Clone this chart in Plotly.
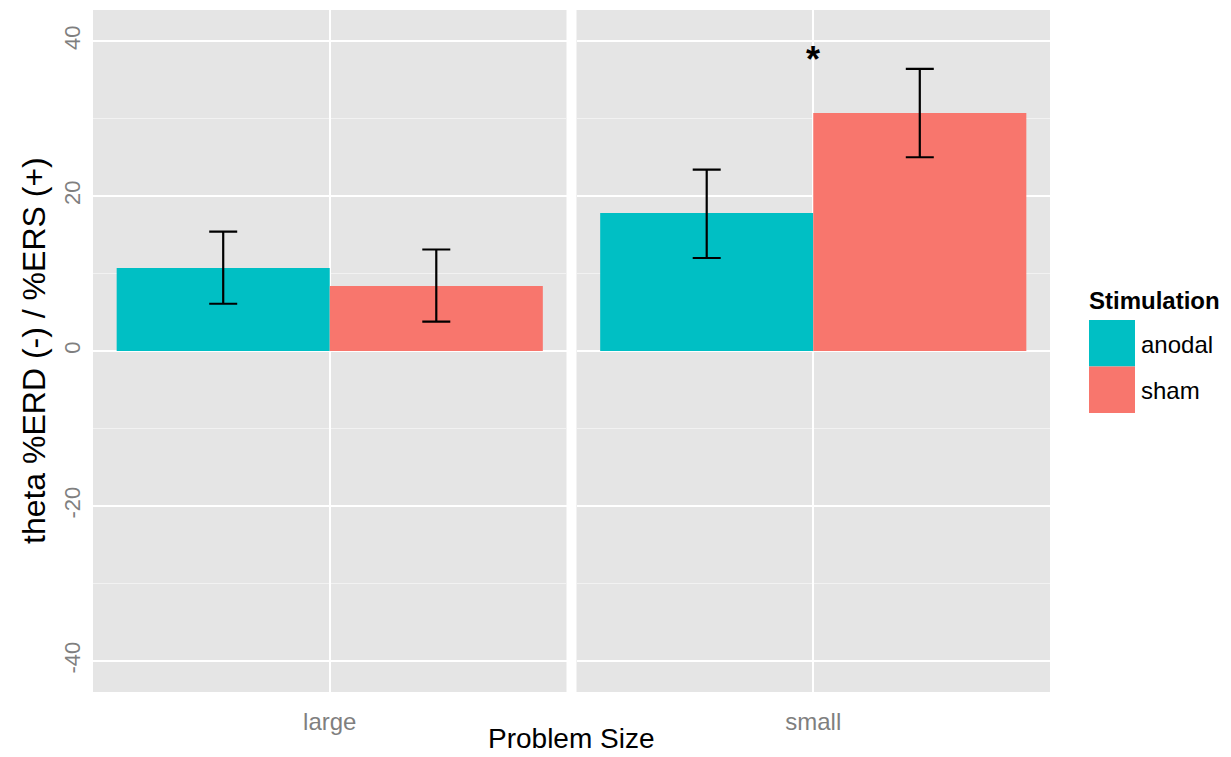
import plotly.graph_objects as go
from plotly.subplots import make_subplots

# ---- data ----
problem_sizes = ["large", "small"]
stimulations = ["anodal", "sham"]
anodal_mean = [10.7, 17.8]
anodal_upper = [15.4, 23.4]
anodal_lower = [6.1, 12.0]
sham_mean = [8.4, 30.7]
sham_upper = [13.1, 36.4]
sham_lower = [3.8, 25.0]
significance_label = "*"
significance_y = 37.6
y_ticks = [-40, -20, 0, 20, 40]

colors = {"anodal": "#00BFC4", "sham": "#F8766D"}
series = {
    "anodal": (anodal_mean, anodal_upper, anodal_lower),
    "sham": (sham_mean, sham_upper, sham_lower),
}

FONT = "Arial, Liberation Sans, Helvetica, sans-serif"
W, H = 1231, 757
L, R, T, B = 93, 181, 10, 65
PW, PH = W - L - R, H - T - B

fig = make_subplots(rows=1, cols=2, shared_yaxes=True, horizontal_spacing=10 / PW)

for ci, size in enumerate(problem_sizes):
    for stim in stimulations:
        m, up, lo = series[stim]
        fig.add_trace(
            go.Bar(
                x=[size],
                y=[m[ci]],
                name=stim,
                marker=dict(color=colors[stim], line=dict(width=0)),
                showlegend=False,
                error_y=dict(
                    type="data",
                    symmetric=False,
                    array=[up[ci] - m[ci]],
                    arrayminus=[m[ci] - lo[ci]],
                    color="black",
                    thickness=2.2,
                    width=14,
                ),
            ),
            row=1,
            col=ci + 1,
        )

fig.update_layout(
    width=W,
    height=H,
    margin=dict(l=L, r=R, t=T, b=B),
    paper_bgcolor="white",
    plot_bgcolor="#E5E5E5",
    barmode="group",
    bargap=0.1,
    bargroupgap=0,
    font=dict(family=FONT, color="black"),
)

for ax in ["xaxis", "xaxis2"]:
    fig.layout[ax].update(
        showgrid=True,
        gridcolor="white",
        gridwidth=2,
        showline=False,
        zeroline=False,
        ticks="",
        tickfont=dict(family=FONT, size=24, color="#7F7F7F"),
        ticklabelstandoff=13,
        fixedrange=True,
    )

for ax in ["yaxis", "yaxis2"]:
    fig.layout[ax].update(
        range=[-44, 44],
        tickvals=y_ticks,
        ticktext=[str(v) for v in y_ticks],
        showgrid=True,
        gridcolor="white",
        gridwidth=2,
        zeroline=True,
        zerolinecolor="white",
        zerolinewidth=2,
        showline=False,
        ticks="",
        minor=dict(tickvals=[-30, -10, 10, 30], showgrid=True, gridcolor="#F2F2F2", gridwidth=1),
        tickangle=-90,
        tickfont=dict(family=FONT, size=22, color="#7F7F7F"),
        ticklabelstandoff=8,
    )

# axis titles
fig.add_annotation(
    x=0.5, y=-(738 - (H - B)) / PH, xref="paper", yref="paper",
    text="Problem Size", showarrow=False,
    font=dict(family=FONT, size=28, color="black"),
    xanchor="center", yanchor="middle",
)
fig.add_annotation(
    x=(34 - L) / PW, y=0.5, xref="paper", yref="paper",
    text="theta %ERD (-) / %ERS (+)", showarrow=False, textangle=-90,
    font=dict(family=FONT, size=32, color="black"),
    xanchor="center", yanchor="middle",
)

# significance marker
fig.add_annotation(
    x=problem_sizes[1], y=significance_y, xref="x2", yref="y2",
    text="<b>" + significance_label + "</b>", showarrow=False,
    font=dict(family=FONT, size=36, color="black"),
    xanchor="center", yanchor="middle",
)

# legend (drawn manually for large key boxes)
def px_x(p):
    return (p - L) / PW

def px_y(p):
    return (H - B - p) / PH

fig.add_annotation(
    x=px_x(1087), y=px_y(301), xref="paper", yref="paper",
    text="<b>Stimulation</b>", showarrow=False,
    font=dict(family=FONT, size=24, color="black"),
    xanchor="left", yanchor="middle",
)
key_top = 320
key_h = 46.5
for i, stim in enumerate(stimulations):
    y0 = key_top + i * key_h
    fig.add_shape(
        type="rect", xref="paper", yref="paper",
        x0=px_x(1089), x1=px_x(1135), y0=px_y(y0 + key_h), y1=px_y(y0),
        fillcolor=colors[stim], line=dict(width=0), layer="above",
    )
    fig.add_annotation(
        x=px_x(1139), y=px_y(y0 + key_h / 2 + 1), xref="paper", yref="paper",
        text=stim, showarrow=False,
        font=dict(family=FONT, size=24, color="black"),
        xanchor="left", yanchor="middle",
    )

fig.write_html(
    "out.html",
    config={"displayModeBar": False},
    post_script="document.body.style.margin='0';document.body.style.overflow='hidden';",
)
